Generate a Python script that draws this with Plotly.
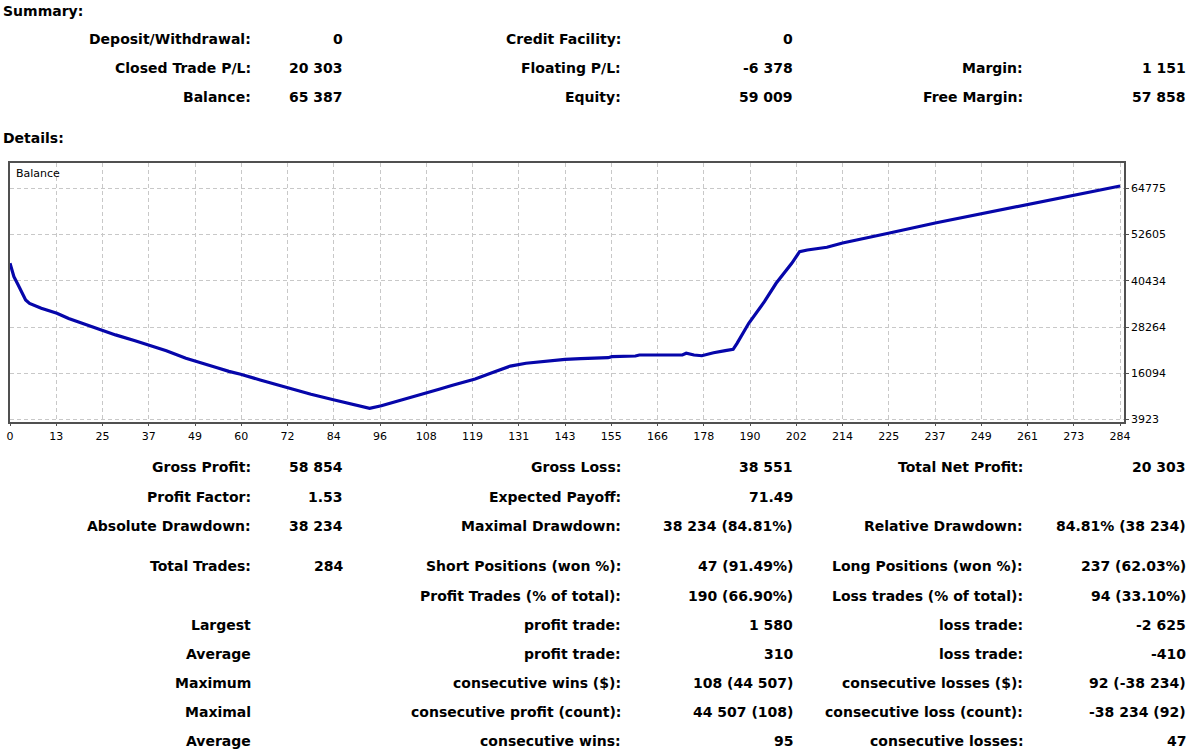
import plotly.graph_objects as go

# balance curve (trade number -> balance)
trades = [0, 1, 2, 3, 4, 5, 6, 8, 12, 15, 19, 24, 27, 32, 36, 40, 45, 49, 53, 56,
          59, 64, 71, 77, 83, 88, 92, 95, 101, 107, 110, 113, 119, 124, 128, 132,
          137, 142, 146, 153, 154, 160, 161, 168, 172, 173, 175, 177, 180, 183,
          185, 186, 189, 193, 196, 200, 202, 204, 209, 213, 219, 225, 237, 249,
          261, 272, 284]
balance = [45084, 41500, 39500, 37200, 35400, 34500, 34070, 33200, 31900, 30500,
           29050, 27200, 26200, 24650, 23250, 22050, 20050, 18900, 17550, 16600,
           15830, 14330, 12300, 10570, 9070, 7750, 6850, 7560, 9250, 11090, 11960,
           12900, 14590, 16500, 18000, 18730, 19330, 19780, 19940, 20200, 20460,
           20650, 20910, 20910, 20910, 21360, 20910, 20720, 21510, 22040, 22410,
           23990, 29250, 34930, 39780, 45040, 48090, 48540, 49250, 50400, 51620,
           53000, 55720, 58200, 60640, 63010, 65387]

x_labels = ["0", "13", "25", "37", "49", "60", "72", "84", "96", "108", "119",
            "131", "143", "155", "166", "178", "190", "202", "214", "225", "237",
            "249", "261", "273", "284"]
y_ticks = [3923, 16094, 28264, 40434, 52605, 64775]

summary_rows = [
    ["Deposit/Withdrawal:", "0", "Credit Facility:", "0", "", ""],
    ["Closed Trade P/L:", "20 303", "Floating P/L:", "-6 378", "Margin:", "1 151"],
    ["Balance:", "65 387", "Equity:", "59 009", "Free Margin:", "57 858"],
]
details_rows = [
    ["Gross Profit:", "58 854", "Gross Loss:", "38 551", "Total Net Profit:", "20 303"],
    ["Profit Factor:", "1.53", "Expected Payoff:", "71.49", "", ""],
    ["Absolute Drawdown:", "38 234", "Maximal Drawdown:", "38 234 (84.81%)",
     "Relative Drawdown:", "84.81% (38 234)"],
    ["Total Trades:", "284", "Short Positions (won %):", "47 (91.49%)",
     "Long Positions (won %):", "237 (62.03%)"],
    ["", "", "Profit Trades (% of total):", "190 (66.90%)",
     "Loss trades (% of total):", "94 (33.10%)"],
    ["Largest", "", "profit trade:", "1 580", "loss trade:", "-2 625"],
    ["Average", "", "profit trade:", "310", "loss trade:", "-410"],
    ["Maximum", "", "consecutive wins ($):", "108 (44 507)",
     "consecutive losses ($):", "92 (-38 234)"],
    ["Maximal", "", "consecutive profit (count):", "44 507 (108)",
     "consecutive loss (count):", "-38 234 (92)"],
    ["Average", "", "consecutive wins:", "95", "consecutive losses:", "47"],
]

W, H = 1200, 756
col_right = [253, 345, 623, 795, 1025, 1188]
summary_y = [39, 68, 97]
details_y = [467, 497, 526, 566, 596, 625, 654, 683, 712, 741]
font = "DejaVu Sans"

annotations = []


def txt(s, px, py, anchor="right", size=14, bold=True):
    annotations.append(dict(
        text="<b>%s</b>" % s if bold else s, x=px / W, y=1 - py / H,
        xref="paper", yref="paper", xanchor=anchor, yanchor="middle",
        showarrow=False, font=dict(family=font, size=size, color="#000000")))


txt("Summary:", 1, 11, anchor="left")
txt("Details:", 1, 138, anchor="left")
for rows, ys in [(summary_rows, summary_y), (details_rows, details_y)]:
    for row, py in zip(rows, ys):
        for s, px in zip(row, col_right):
            if s:
                txt(s, px, py)

txt("Balance", 14, 174, anchor="left", size=11, bold=False)

fig = go.Figure()
fig.add_trace(go.Scatter(x=trades, y=balance, mode="lines",
                         line=dict(color="#0606AA", width=3.2),
                         hoverinfo="skip", showlegend=False))

grid = dict(showgrid=True, gridcolor="#C8C8C8", griddash="4px,3px", gridwidth=1,
            showline=True, mirror=True, linecolor="#505050", linewidth=1.5,
            ticks="outside", ticklen=3, tickcolor="#505050", zeroline=False,
            automargin=False, tickfont=dict(family=font, size=11, color="#000000"))

fig.update_layout(
    width=W, height=H,
    margin=dict(l=0, r=0, t=0, b=0),
    paper_bgcolor="white", plot_bgcolor="white",
    xaxis=dict(domain=[10 / W, 1124 / W], range=[0, 285.0],
               tickvals=[i * 284 / 24 for i in range(len(x_labels))],
               ticktext=x_labels, **grid),
    yaxis=dict(domain=[1 - 421.7 / H, 1 - 162.7 / H], range=[3358, 71511],
               side="right", tickvals=y_ticks, ticktext=[str(v) for v in y_ticks],
               **grid),
    annotations=annotations,
)

# page body has an 8px default margin, drop it so the figure sits at 0,0
fig.write_html("out.html", config={"displayModeBar": False},
               post_script="document.body.style.margin='0';"
                           "document.body.style.overflow='hidden';")
